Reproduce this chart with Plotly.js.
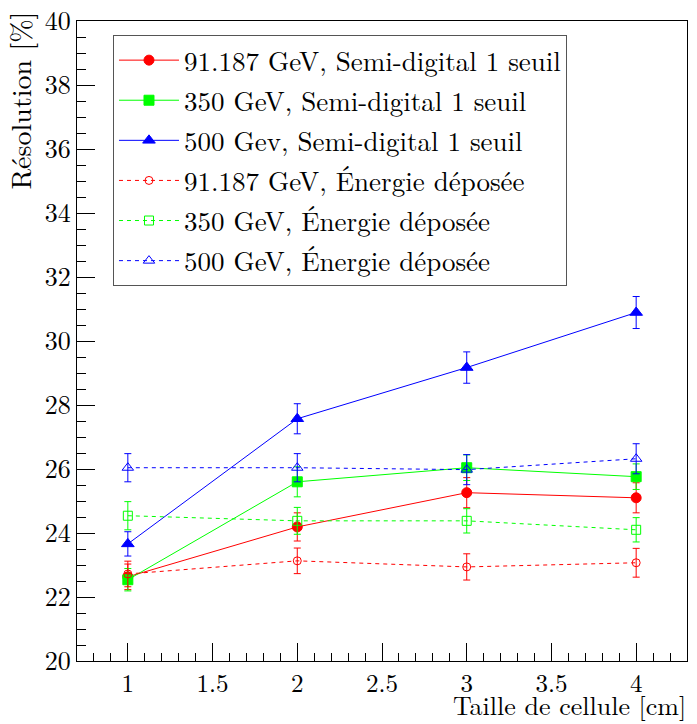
<!DOCTYPE html>
<html>
<head>
<meta charset="utf-8">
<script src="https://cdn.plot.ly/plotly-3.0.1.min.js"></script>
<style>html,body{margin:0;padding:0;background:#fff;}#chart{width:697px;height:724px;}</style>
</head>
<body>
<div id="chart"></div>
<script>
const cellSize = [1, 2, 3, 4];

const names = [
  "91.187 GeV, Semi-digital 1 seuil",
  "350 GeV, Semi-digital 1 seuil",
  "500 Gev, Semi-digital 1 seuil",
  "91.187 GeV, Énergie déposée",
  "350 GeV, Énergie déposée",
  "500 GeV, Énergie déposée"
];

const res91Semi = [22.63, 24.19, 25.26, 25.10];
const err91Semi = [0.40, 0.44, 0.47, 0.47];
const res350Semi = [22.54, 25.60, 26.04, 25.76];
const err350Semi = [0.35, 0.47, 0.40, 0.40];
const res500Semi = [23.66, 27.57, 29.17, 30.89];
const err500Semi = [0.38, 0.47, 0.49, 0.50];
const res91Ener = [22.72, 23.13, 22.94, 23.07];
const err91Ener = [0.40, 0.40, 0.41, 0.45];
const res350Ener = [24.54, 24.38, 24.38, 24.10];
const err350Ener = [0.44, 0.42, 0.38, 0.38];
const res500Ener = [26.04, 26.04, 25.98, 26.32];
const err500Ener = [0.44, 0.44, 0.47, 0.47];

const FONT = "Latin Modern Roman";

function tr(name, y, err, color, symbol, dashed, size, group) {
  return {
    x: cellSize, y: y, name: name, type: 'scatter', mode: 'lines+markers',
    legendgroup: group,
    line: {color: color, width: 1, dash: dashed ? '4px,4px' : 'solid'},
    marker: {color: color, symbol: symbol, size: size, line: {color: color, width: 1}},
    error_y: {type: 'data', array: err, visible: true, color: color, thickness: 1, width: 3.5}
  };
}

const data = [
  tr(names[0], res91Semi, err91Semi, '#ff0000', 'circle', false, 10, 'g1'),
  tr(names[1], res350Semi, err350Semi, '#00ff00', 'square', false, 10, 'g2'),
  tr(names[2], res500Semi, err500Semi, '#0000ff', 'triangle-up', false, 11, 'g3'),
  tr(names[3], res91Ener, err91Ener, '#ff0000', 'circle-open', true, 8, 'g4'),
  tr(names[4], res350Ener, err350Ener, '#00ff00', 'square-open', true, 9, 'g5'),
  tr(names[5], res500Ener, err500Ener, '#0000ff', 'triangle-up-open', true, 10, 'g6')
];

const layout = {
  width: 697, height: 724,
  margin: {l: 77, r: 10, t: 21, b: 63},
  paper_bgcolor: '#fff', plot_bgcolor: '#fff',
  font: {family: FONT, size: 25, color: '#000'},
  showlegend: true,
  legend: {
    x: 0.059, y: 0.978, xanchor: 'left', yanchor: 'top',
    bgcolor: '#fff', bordercolor: '#555', borderwidth: 1,
    font: {family: FONT, size: 27, color: '#000'},
    tracegroupgap: 2, itemwidth: 60
  },
  xaxis: {
    range: [0.7, 4.3], dtick: 0.5, tick0: 0,
    showgrid: false, zeroline: false,
    showline: true, linecolor: '#000', linewidth: 1, mirror: true,
    ticks: 'inside', ticklen: 18, tickcolor: '#000', tickwidth: 1,
    minor: {dtick: 0.1, ticks: 'inside', ticklen: 8, tickcolor: '#000', tickwidth: 1, showgrid: false},
    tickfont: {family: FONT, size: 25, color: '#000'}
  },
  yaxis: {
    range: [20, 40], dtick: 2, tick0: 0,
    showgrid: false, zeroline: false,
    showline: true, linecolor: '#000', linewidth: 1, mirror: true,
    ticks: 'inside', ticklen: 18, tickcolor: '#000', tickwidth: 1,
    minor: {dtick: 0.5, ticks: 'inside', ticklen: 9, tickcolor: '#000', tickwidth: 1, showgrid: false},
    tickfont: {family: FONT, size: 26, color: '#000'}
  },
  annotations: [
    {text: 'Résolution [%]', xref: 'paper', yref: 'paper', x: -0.095, y: 1.018,
     xanchor: 'center', yanchor: 'top', textangle: -90, showarrow: false,
     font: {family: FONT, size: 28, color: '#000'}},
    {text: 'Taille de cellule [cm]', xref: 'paper', yref: 'paper', x: 1.0, y: -0.0984,
     xanchor: 'right', yanchor: 'bottom', showarrow: false, borderpad: 0,
     font: {family: FONT, size: 26, color: '#000'}}
  ]
};

Plotly.newPlot('chart', data, layout, {displayModeBar: false, staticPlot: true});
</script>
</body>
</html>
